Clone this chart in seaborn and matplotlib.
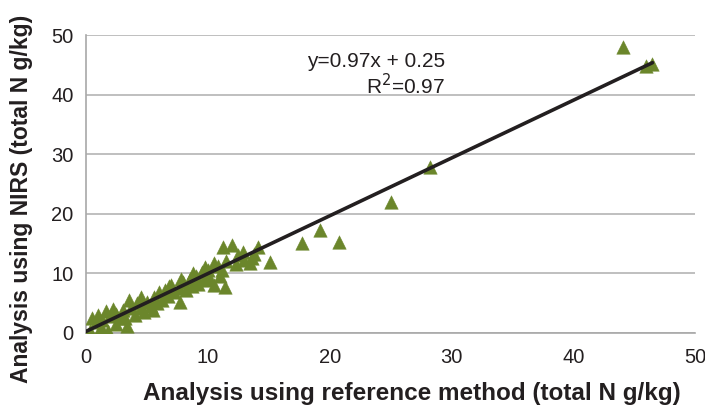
import matplotlib
matplotlib.use('Agg')
import matplotlib.pyplot as plt
import numpy as np
import pandas as pd
import seaborn as sns

# reference method vs NIRS (total N g/kg)
ref_x = [0.3, 1.8, 0.5, 0.8, 1.0, 1.3, 1.6, 2.0, 2.2, 2.5, 2.8, 3.0, 3.4, 3.5, 3.7,
         4.0, 4.2, 4.5, 4.8, 5.0, 5.3, 5.6, 5.8, 6.0, 6.2, 6.5, 6.7, 7.0, 7.2, 7.7,
         7.6, 8.0, 8.2, 8.5, 8.7, 9.0, 9.2, 9.5, 9.7, 10.0, 10.2, 10.5, 10.8, 11.0,
         11.4, 11.25, 11.5, 12.0, 12.3, 12.9, 13.5, 13.6, 13.8, 14.1, 15.1, 17.7,
         19.2, 20.8, 25.0, 28.2, 44.1, 46.0, 46.5,
         1.2, 2.5, 3.2, 4.5, 5.5, 6.8, 7.8, 8.8, 9.8, 10.5, 11.2, 12.5, 13.0]
nirs_y = [0.3, 0.3, 2.5, 1.8, 3.0, 2.2, 3.6, 2.8, 4.0, 3.2, 2.5, 3.8, 1.1, 5.5, 4.2,
          3.0, 5.0, 4.2, 3.5, 5.2, 4.5, 6.0, 5.0, 6.8, 5.5, 7.2, 6.2, 8.0, 6.8, 5.2,
          7.5, 8.5, 7.2, 9.0, 7.8, 9.5, 8.2, 10.2, 8.8, 10.5, 9.0, 8.0, 11.2, 9.5,
          7.7, 14.4, 12.0, 14.8, 11.5, 13.6, 11.7, 12.6, 13.2, 14.4, 11.9, 15.1,
          17.3, 15.2, 22.0, 27.8, 48.0, 44.8, 45.1,
          1.0, 1.5, 2.5, 6.0, 3.8, 7.8, 9.0, 10.0, 11.0, 11.8, 10.5, 13.0, 12.2]

slope = 0.97
intercept = 0.25
fit_x = [0, 46.5]
fit_y = [slope * v + intercept for v in fit_x]

df = pd.DataFrame({'ref': ref_x, 'nirs': nirs_y})
fit = pd.DataFrame({'x': fit_x, 'y': fit_y})

sns.set_style('white')
plt.rcParams['font.family'] = ['Liberation Sans', 'DejaVu Sans']

fig = plt.figure(figsize=(7.05, 4.12), dpi=100)
ax = fig.add_axes([0.122, 0.192, 0.864, 0.723])

ax.yaxis.grid(True, color='#b4b4b4', linewidth=1.2)
ax.set_axisbelow(True)

sns.scatterplot(data=df, x='ref', y='nirs', marker='^', s=95, color='#6b862b',
                edgecolor='#6b862b', linewidth=0.3, ax=ax, zorder=3)
sns.lineplot(data=fit, x='x', y='y', color='#231f20', linewidth=2.6, ax=ax, zorder=4)

ax.set_xlim(0, 50)
ax.set_ylim(0, 50)
ax.set_xticks([0, 10, 20, 30, 40, 50])
ax.set_yticks([0, 10, 20, 30, 40, 50])
ax.tick_params(axis='both', labelsize=14.5, colors='#231f20', length=4,
               width=1, direction='out')
ax.tick_params(axis='x', color='#a8a8a8', pad=7)
ax.tick_params(axis='y', color='#a8a8a8', pad=5)

for side in ['top', 'right']:
    ax.spines[side].set_visible(False)
for side in ['left', 'bottom']:
    ax.spines[side].set_color('#a8a8a8')
    ax.spines[side].set_linewidth(1.2)

ax.set_xlabel('Analysis using reference method (total N g/kg)', fontsize=17.5,
              fontweight='bold', color='#231f20', labelpad=11, x=0.535)
ax.set_ylabel('Analysis using NIRS (total N g/kg)', fontsize=16.5,
              fontweight='bold', color='#231f20', labelpad=13, y=0.45)

ax.text(0.59, 0.91, 'y=0.97x + 0.25', transform=ax.transAxes, ha='right',
        va='center', fontsize=15, color='#231f20')
ax.text(0.59, 0.83, 'R$^2$=0.97', transform=ax.transAxes, ha='right',
        va='center', fontsize=15, color='#231f20')

fig.savefig('out.png', dpi=100)
